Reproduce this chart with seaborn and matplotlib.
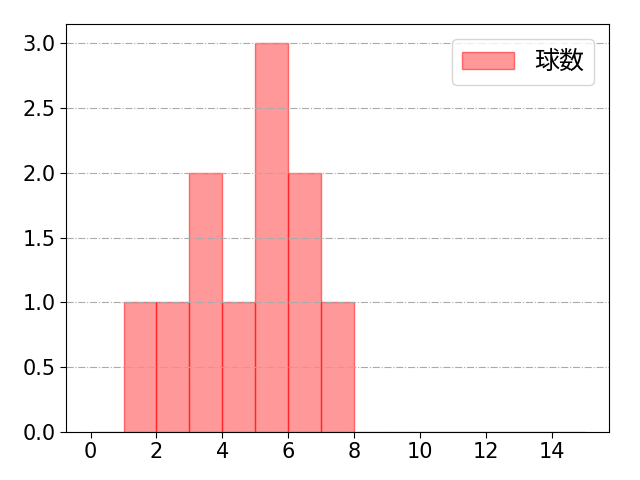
import matplotlib
matplotlib.use("Agg")
import matplotlib.pyplot as plt
import seaborn as sns
import pandas as pd

# pitch values (one entry per pitch)
values = [1, 2, 3, 3, 4, 5, 5, 5, 6, 6, 7]
bin_edges = list(range(0, 16))
label = "球数"

sns.set_style("white")
plt.rcParams['font.family'] = ['DejaVu Sans', 'Noto Sans CJK JP']
plt.rcParams['font.size'] = 15
plt.rcParams['text.color'] = 'black'
plt.rcParams['xtick.color'] = 'black'
plt.rcParams['ytick.color'] = 'black'

df = pd.DataFrame({label: values})

fig, ax = plt.subplots(figsize=(6.4, 4.8), dpi=100)
fig.subplots_adjust(left=0.103, right=0.952, top=0.95, bottom=0.1)
sns.histplot(data=df, x=label, bins=bin_edges, ax=ax,
             color=(1.0, 0.0, 0.0), alpha=0.4, edgecolor=(1.0, 0.0, 0.0, 0.5),
             linewidth=1, label=label)
ax.set_xlim(-0.75, 15.75)
ax.set_xticks(range(0, 15, 2))
ax.set_xlabel("")
ax.set_ylabel("")
ax.set_axisbelow(False)
ax.grid(axis='y', linestyle='-.', color='#aaaaaa', linewidth=0.8)
for s in ax.spines.values():
    s.set_visible(True)
    s.set_color('black')
    s.set_zorder(5)
ax.tick_params(axis='both', which='both', bottom=True, left=True, length=4,
               labelsize=15, colors='black')
leg = ax.legend(loc='upper right', prop={'family': ['Noto Sans CJK JP'], 'size': 18},
                handlelength=2.1, borderaxespad=0.6, edgecolor='#cccccc')
fig.savefig("out.png", dpi=100)
